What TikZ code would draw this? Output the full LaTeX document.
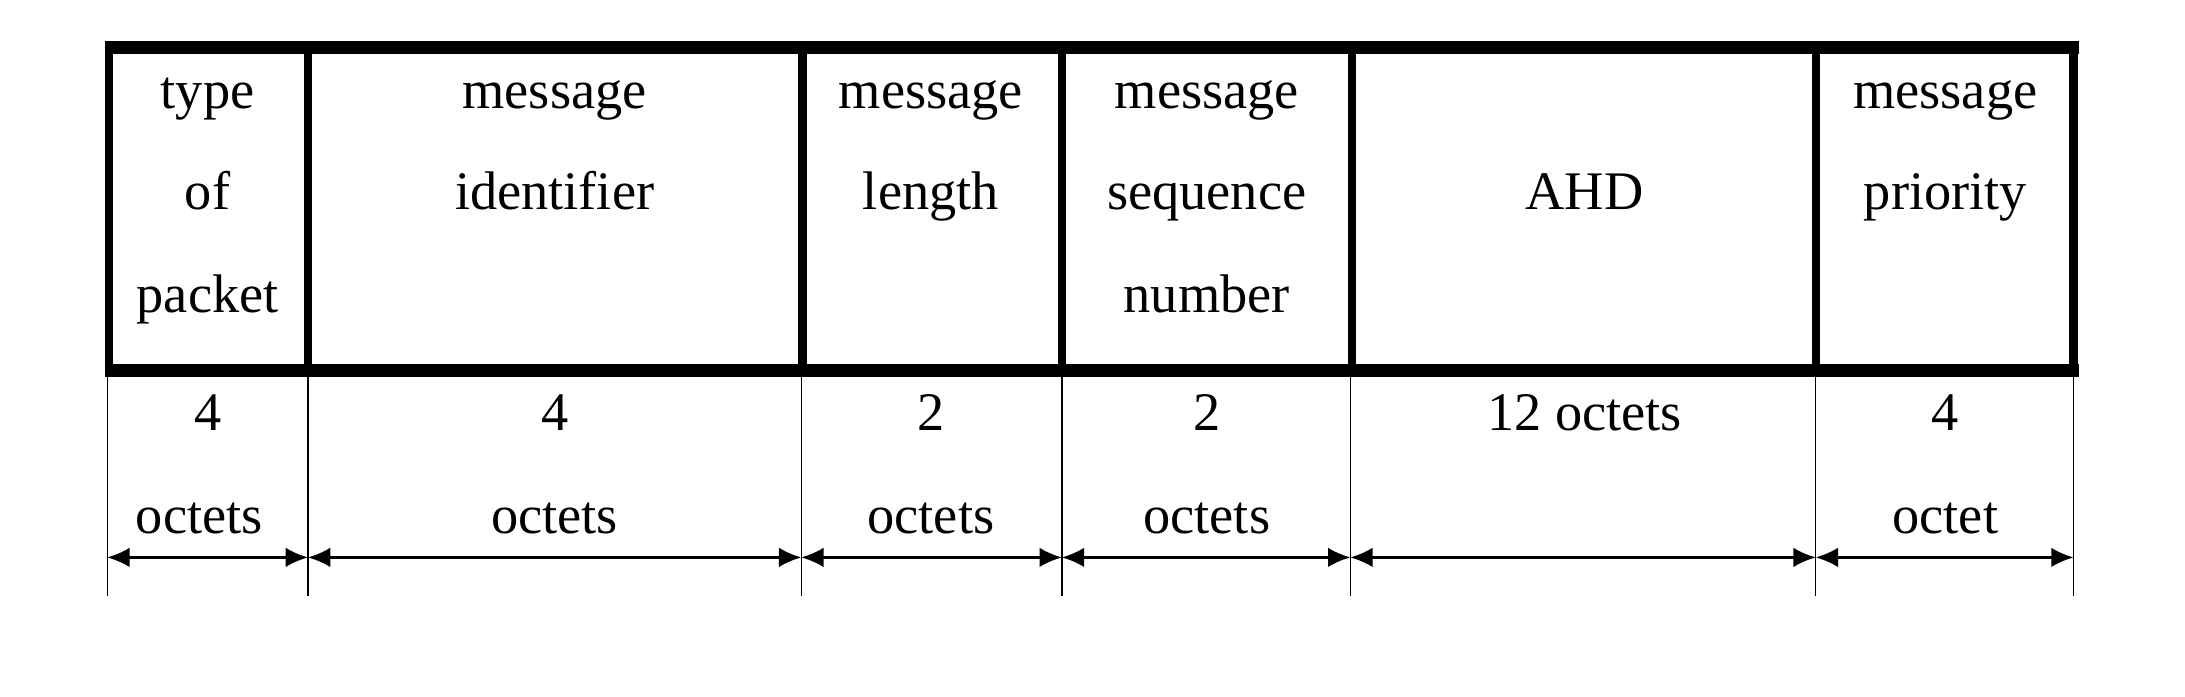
\documentclass[tikz,border=0pt]{standalone}
\usepackage{fontspec}
\setmainfont{Liberation Serif}
\usetikzlibrary{arrows.meta}
\begin{document}
\begin{tikzpicture}[x=1pt,y=-1pt,
  lbl/.style={font=\fontsize{39}{41}\selectfont, inner sep=0pt, anchor=base},
  tick/.style={line width=1pt},
  dim/.style={line width=1.6pt, {Latex[length=16pt,width=14pt]}-{Latex[length=16pt,width=14pt]}}]
\useasboundingbox (0,0) rectangle (1568,500);
% box
\draw[line width=9pt] (75,34) -- (1492,34);
\draw[line width=9pt] (75,266) -- (1492,266);
\foreach \x in {78,221,576,762,970,1303,1488}
  \draw[line width=6pt] (\x,34) -- (\x,266);
\foreach \x/\n in {77/a,221/b,575/c,762/d,969/e,1303/f,1488/g}
  \coordinate (t\n) at (\x,270);
\foreach \n in {a,b,c,d,e,f,g}
  \draw[tick] (t\n) -- ++(0,158);
% field labels
\node[lbl] (f1a) at (149,78) {type};
\node[lbl] (f1b) at (149,150) {of};
\node[lbl] (f1c) at (149,224) {packet};
\node[lbl] (f2a) at (398,78) {message};
\node[lbl] (f2b) at (398,150) {identifier};
\node[lbl] (f3a) at (668,78) {message};
\node[lbl] (f3b) at (668,150) {length};
\node[lbl] (f4a) at (866,78) {message};
\node[lbl] (f4b) at (866,150) {sequence};
\node[lbl] (f4c) at (866,224) {number};
\node[lbl] (f5a) at (1137,150) {AHD};
\node[lbl] (f6a) at (1396,78) {message};
\node[lbl] (f6b) at (1396,150) {priority};
% sizes
\node[lbl] (s1a) at (149,309) {4};
\node[lbl] (s1b) at (143,383) {octets};
\node[lbl] (s2a) at (398,309) {4};
\node[lbl] (s2b) at (398,383) {octets};
\node[lbl] (s3a) at (668,309) {2};
\node[lbl] (s3b) at (668,383) {octets};
\node[lbl] (s4a) at (866,309) {2};
\node[lbl] (s4b) at (866,383) {octets};
\node[lbl] (s5a) at (1137,309) {12 octets};
\node[lbl] (s6a) at (1396,309) {4};
\node[lbl] (s6b) at (1396,383) {octet};
% dimension arrows
\draw[dim] ([shift={(0,130)}]ta) -- ([shift={(0,130)}]tb);
\draw[dim] ([shift={(0,130)}]tb) -- ([shift={(0,130)}]tc);
\draw[dim] ([shift={(0,130)}]tc) -- ([shift={(0,130)}]td);
\draw[dim] ([shift={(0,130)}]td) -- ([shift={(0,130)}]te);
\draw[dim] ([shift={(0,130)}]te) -- ([shift={(0,130)}]tf);
\draw[dim] ([shift={(0,130)}]tf) -- ([shift={(0,130)}]tg);
\end{tikzpicture}
\end{document}
